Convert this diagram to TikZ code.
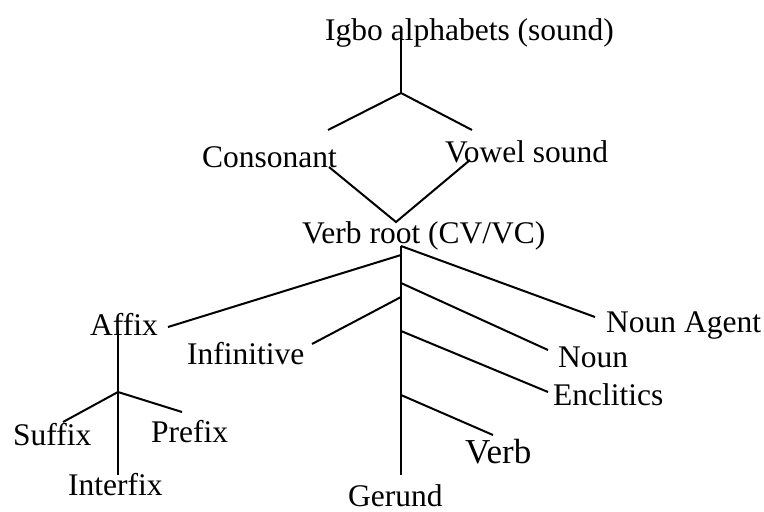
\documentclass[tikz,border=0pt]{standalone}
\usepackage{fontspec}
\setmainfont{Liberation Serif}
\begin{document}
\begin{tikzpicture}[x=1pt,y=-1pt,
  lbl/.style={inner sep=0pt, anchor=base west, font=\fontsize{31.5}{31.5}\selectfont},
  biglbl/.style={lbl, font=\fontsize{35}{35}\selectfont},
  ln/.style={line width=2pt, draw=black}]
\useasboundingbox (0,0) rectangle (764,512);
% text nodes
\node[lbl] (igbo) at (325,40) {Igbo alphabets (sound)};
\node[lbl] (cons) at (202,167) {Consonant};
\node[lbl] (vowel) at (445,162) {Vowel sound};
\node[lbl] (root) at (302,243) {Verb root (CV/VC)};
\node[lbl] (affix) at (90,335) {Affix};
\node[lbl] (inf) at (187,364) {Infinitive};
\node[lbl] (agent) at (606,332) {Noun Agent};
\node[lbl] (noun) at (558,367) {Noun};
\node[lbl] (encl) at (553,405) {Enclitics};
\node[biglbl] (verb) at (465,463) {Verb};
\node[lbl] (gerund) at (348,506) {Gerund};
\node[lbl] (suffix) at (13,445) {Suffix};
\node[lbl] (prefix) at (151,442) {Prefix};
\node[lbl] (interfix) at (68,495) {Interfix};
% junction coordinates
\coordinate (top) at (401,28);
\coordinate (j1) at (401,93);
\coordinate (cl) at (328,130);
\coordinate (vr) at (472,130);
\coordinate (cb) at (329,167);
\coordinate (vb) at (470,160);
\coordinate (rt) at (396,222);
\coordinate (rtop) at (401,246);
\coordinate (rbot) at (401,475);
\coordinate (a1) at (401,255);
\coordinate (affend) at (168,327);
\coordinate (i1) at (401,297);
\coordinate (infend) at (312,344);
\coordinate (agend) at (595,317);
\coordinate (n1) at (401,283);
\coordinate (nend) at (548,350);
\coordinate (e1) at (401,331);
\coordinate (eend) at (548,392);
\coordinate (v1) at (401,395);
\coordinate (vend) at (493,435);
\coordinate (afftop) at (118,330);
\coordinate (affj) at (118,392);
\coordinate (affbot) at (118,475);
\coordinate (sufend) at (63,422);
\coordinate (prefend) at (182,412);
% connectors
\draw[ln] (top) -- (j1);
\draw[ln] (cl) -- (j1) -- (vr);
\draw[ln] (cb) -- (rt) -- (vb);
\draw[ln] (rtop) -- (rbot);
\draw[ln] (a1) -- (affend);
\draw[ln] (i1) -- (infend);
\draw[ln] (rtop) -- (agend);
\draw[ln] (n1) -- (nend);
\draw[ln] (e1) -- (eend);
\draw[ln] (v1) -- (vend);
\draw[ln] (afftop) -- (affbot);
\draw[ln] (sufend) -- (affj) -- (prefend);
\end{tikzpicture}
\end{document}
